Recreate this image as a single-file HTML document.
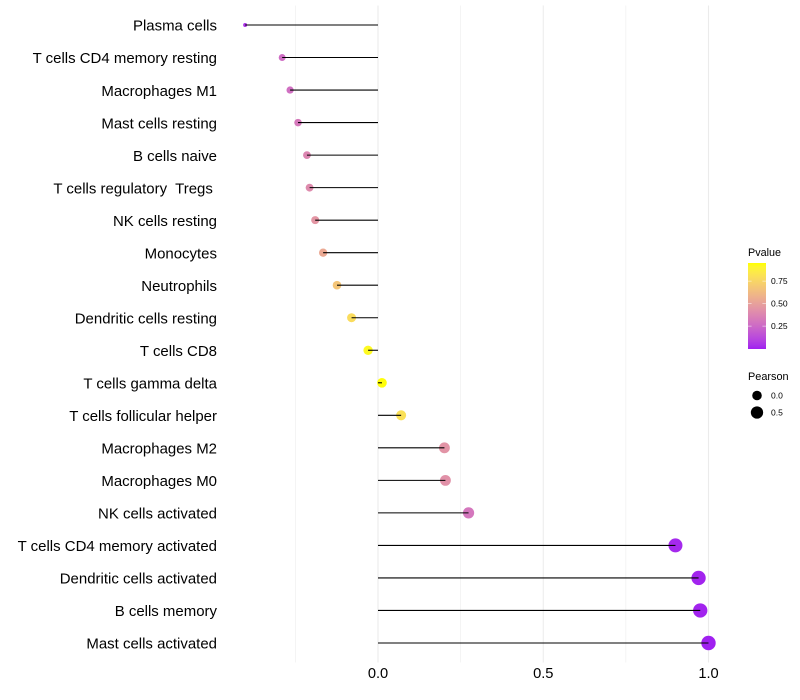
<!DOCTYPE html>
<html>
<head>
<meta charset="utf-8">
<style>
html,body{margin:0;padding:0;background:#fff;}
svg{display:block;font-family:"Liberation Sans",sans-serif;}
text{white-space:pre;}
</style>
</head>
<body>
<svg id="chart" xmlns="http://www.w3.org/2000/svg" width="800" height="700" viewBox="0 0 800 700">
<defs><linearGradient id="pgrad" x1="0" y1="1" x2="0" y2="0"></linearGradient></defs>
<g id="grid"></g>
<g id="points"></g>
<g id="segments"></g>
<g id="ylabels"></g>
<g id="xlabels"></g>
<g id="colorlegend">
<text x="748" y="256" font-size="10.8" fill="#000">Pvalue</text>
<rect x="748" y="263" width="18" height="86" fill="url(#pgrad)"></rect>
</g>
<g id="sizelegend">
<text x="748" y="380" font-size="10.9" fill="#000">Pearson</text>
</g>
</svg>
<script>
const categories = ["Plasma cells","T cells CD4 memory resting","Macrophages M1","Mast cells resting","B cells naive","T cells regulatory  Tregs ","NK cells resting","Monocytes","Neutrophils","Dendritic cells resting","T cells CD8","T cells gamma delta","T cells follicular helper","Macrophages M2","Macrophages M0","NK cells activated","T cells CD4 memory activated","Dendritic cells activated","B cells memory","Mast cells activated"];
const pearson = [-0.402,-0.29,-0.266,-0.242,-0.215,-0.207,-0.19,-0.166,-0.124,-0.08,-0.03,0.012,0.07,0.201,0.204,0.274,0.90,0.97,0.975,1.0];
const pvalues = [0.05,0.27,0.28,0.32,0.38,0.40,0.45,0.54,0.67,0.78,0.92,0.94,0.8,0.44,0.43,0.31,0.02,0.01,0.01,0.0];
const xMajorTicks = [0,0.5,1];
const xMinorTicks = [-0.25,0.25,0.75];
const colorTicks = [0.25,0.5,0.75];
const sizeTicks = [0,0.5];

const NS = "http://www.w3.org/2000/svg";
function xScale(v){ return 378 + v * 330.5; }
function yScale(i){ return 25 + i * 32.526; }
const vMin = Math.min.apply(null, pearson), vMax = Math.max.apply(null, pearson);
function rScale(v){ return 2 + 5.2 * Math.sqrt(Math.max(0,(v - vMin) / (vMax - vMin))); }
function colorY(p){ return 348.6 - p * 90; }

function mk(parent, tag, attrs){
  const el = document.createElementNS(NS, tag);
  for (const k in attrs) el.setAttribute(k, attrs[k]);
  parent.appendChild(el);
  return el;
}
function lin(c){ c/=255; return c>0.04045?Math.pow((c+0.055)/1.055,2.4):c/12.92; }
function gam(c){ c=c<=0.0031308?12.92*c:1.055*Math.pow(c,1/2.4)-0.055; return Math.round(Math.min(1,Math.max(0,c))*255); }
function toLab(rgb){
  const r=lin(rgb[0]),g=lin(rgb[1]),b=lin(rgb[2]);
  const X=(0.4124*r+0.3576*g+0.1805*b)/0.95047,Y=0.2126*r+0.7152*g+0.0722*b,Z=(0.0193*r+0.1192*g+0.9505*b)/1.08883;
  const f=t=>t>0.008856?Math.cbrt(t):7.787*t+16/116;
  return [116*f(Y)-16,500*(f(X)-f(Y)),200*(f(Y)-f(Z))];
}
function fromLab(l){
  const fy=(l[0]+16)/116,fx=fy+l[1]/500,fz=fy-l[2]/200;
  const g=t=>t*t*t>0.008856?t*t*t:(t-16/116)/7.787;
  const X=g(fx)*0.95047,Y=g(fy),Z=g(fz)*1.08883;
  return "rgb("+gam(3.2406*X-1.5372*Y-0.4986*Z)+","+gam(-0.9689*X+1.8758*Y+0.0415*Z)+","+gam(0.0557*X-0.2040*Y+1.0570*Z)+")";
}
const labLow = toLab([160,32,240]), labHigh = toLab([255,255,0]);
const pMax = 0.945;
function colorScale(p){
  const t = Math.min(1, Math.max(0, p / pMax));
  return fromLab([0,1,2].map(i => labLow[i] + (labHigh[i] - labLow[i]) * t));
}

const grid = document.getElementById("grid");
xMinorTicks.forEach(function(t){
  const l = mk(grid, "line", {x1:xScale(t),x2:xScale(t),y1:5.5,y2:662.5,stroke:"#ebebeb","stroke-width":0.55});
  
  
});
xMajorTicks.forEach(function(t){
  const l = mk(grid, "line", {x1:xScale(t),x2:xScale(t),y1:5.5,y2:662.5,stroke:"#ebebeb","stroke-width":1.07});
  
  
});

const ptsG = document.getElementById("points"), segG = document.getElementById("segments"), yG = document.getElementById("ylabels"), xG = document.getElementById("xlabels");
categories.forEach(function(name, i){
  const c = mk(ptsG, "circle", {cx:xScale(pearson[i]),cy:yScale(i),r:rScale(pearson[i]),fill:colorScale(pvalues[i])});
  
  
  const s = mk(segG, "line", {x1:xScale(0),x2:xScale(pearson[i]),y1:yScale(i),y2:yScale(i),stroke:"#000","stroke-width":1.07});
  
  
  const t = mk(yG, "text", {x:217,y:yScale(i)+5.7,"text-anchor":"end","font-size":14.97,fill:"#000"});
  
  
  t.textContent = name;
});
xMajorTicks.forEach(function(v){
  const t = mk(xG, "text", {x:xScale(v),y:678,"text-anchor":"middle","font-size":14.67,fill:"#000"});
  
  
  t.textContent = v.toFixed(1);
});

const grad = document.getElementById("pgrad");
for (let i = 0; i <= 20; i++){
  const st = mk(grad, "stop", {offset:(i/20), "stop-color":colorScale(pMax*i/20)});
}
const cl = document.getElementById("colorlegend");
colorTicks.forEach(function(p){
  const a = mk(cl, "line", {x1:748,x2:751.6,y1:colorY(p),y2:colorY(p),stroke:"#fff","stroke-width":0.5});
  
  
  const b = mk(cl, "line", {x1:762.4,x2:766,y1:colorY(p),y2:colorY(p),stroke:"#fff","stroke-width":0.5});
  
  
  const t = mk(cl, "text", {x:771,y:colorY(p)+3,"font-size":8.53,fill:"#000"});
  
  
  t.textContent = p.toFixed(2);
});
const sl = document.getElementById("sizelegend");
sizeTicks.forEach(function(v, i){
  const y = 395.5 + i * 17;
  const c = mk(sl, "circle", {cx:757,cy:y,r:rScale(v),fill:"#000"});
  
  
  const t = mk(sl, "text", {x:771,y:y+3,"font-size":8.53,fill:"#000"});
  
  
  t.textContent = v.toFixed(1);
});
</script>
</body>
</html>
